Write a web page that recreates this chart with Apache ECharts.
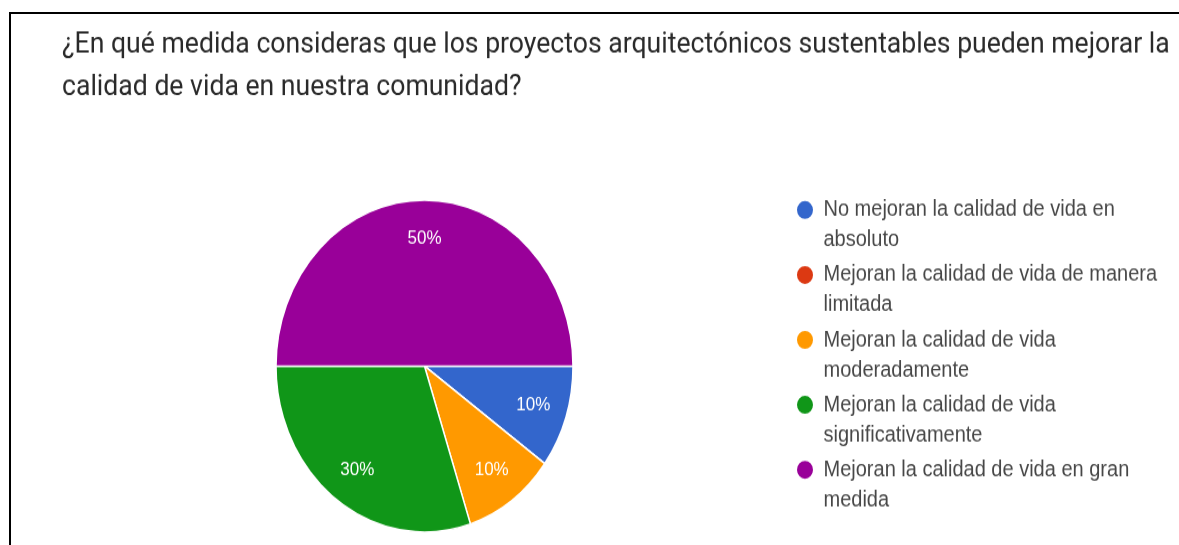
<!DOCTYPE html>
<html>
<head>
<meta charset="utf-8">
<script src="https://cdn.jsdelivr.net/npm/echarts@6/dist/echarts.min.js"></script>
<style>
  html, body { margin: 0; padding: 0; background: #ffffff; overflow: hidden; }
  body { width: 1179px; height: 545px; position: relative; }
  .rule { position: absolute; background: #000; pointer-events: none; z-index: 2; }
  #ruleTop { left: 9px; top: 12px; width: 1170px; height: 2px; }
  #ruleLeft { left: 9px; top: 12px; width: 2px; height: 533px; }
  #wrap {
    position: absolute; left: 0; top: 0; width: 1179px; height: 488px;
    transform: scaleY(1.118); transform-origin: 0 0;
  }
  #chart { width: 1179px; height: 488px; }
</style>
</head>
<body>
<div id="wrap"><div id="chart"></div></div>
<div class="rule" id="ruleTop"></div>
<div class="rule" id="ruleLeft"></div>
<script>
// Survey question shown above the pie
const titleLines = [
  '¿En qué medida consideras que los proyectos arquitectónicos sustentables pueden mejorar la',
  'calidad de vida en nuestra comunidad?'
];

// Answer options (legend order)
const categories = [
  'No mejoran la calidad de vida en absoluto',
  'Mejoran la calidad de vida de manera limitada',
  'Mejoran la calidad de vida moderadamente',
  'Mejoran la calidad de vida significativamente',
  'Mejoran la calidad de vida en gran medida'
];

// Legend text as it wraps in the legend column
const legendLines = [
  ['No mejoran la calidad de vida en', 'absoluto'],
  ['Mejoran la calidad de vida de manera', 'limitada'],
  ['Mejoran la calidad de vida', 'moderadamente'],
  ['Mejoran la calidad de vida', 'significativamente'],
  ['Mejoran la calidad de vida en gran', 'medida']
];

// Share of responses, percent
const shares = [10, 0, 10, 30, 50];

const colors = ['#3366cc', '#dc3912', '#ff9900', '#109618', '#990099'];

const seriesData = categories.map((name, i) => ({ name: name, value: shares[i] }));

const CENTER = [424.5, 327.4];
const R = 148.5;

const chart = echarts.init(document.getElementById('chart'), null, { renderer: 'canvas' });

chart.setOption({
  animation: false,
  color: colors,
  title: {
    text: titleLines.join('\n'),
    left: 62,
    top: 22,
    padding: 0,
    textStyle: {
      fontFamily: 'Roboto',
      fontWeight: 'normal',
      fontSize: 26.6,
      lineHeight: 37.6,
      color: '#2a2a2a'
    }
  },
  legend: {
    orient: 'vertical',
    left: 795,
    top: 147.3,
    padding: 0,
    itemWidth: 19,
    itemHeight: 18,
    itemGap: -22.9,
    icon: 'circle',
    selectedMode: false,
    data: categories,
    // a leading empty line keeps the first text line level with the marker
    formatter: function (name) {
      return '\n' + legendLines[categories.indexOf(name)].join('\n');
    },
    textStyle: {
      fontFamily: 'Liberation Sans',
      fontSize: 20,
      lineHeight: 27,
      color: '#474747',
      padding: [0, 0, 0, 4]
    }
  },
  series: [
    {
      type: 'pie',
      center: CENTER,
      radius: [0, R],
      startAngle: 0,
      clockwise: true,
      silent: true,
      label: { show: false },
      labelLine: { show: false },
      itemStyle: { borderColor: '#ffffff', borderWidth: 1.5 },
      data: seriesData
    },
    {
      // percentage labels, placed in the outer band of the pie
      type: 'pie',
      center: CENTER,
      radius: [R * 0.5, R],
      startAngle: 0,
      clockwise: true,
      silent: true,
      itemStyle: { color: 'rgba(0,0,0,0)', borderWidth: 0 },
      label: {
        show: true,
        position: 'inside',
        fontFamily: 'Liberation Sans',
        fontSize: 17,
        color: '#ffffff',
        formatter: function (p) { return p.value > 0 ? p.value + '%' : ''; }
      },
      labelLine: { show: false },
      data: seriesData
    }
  ]
});
</script>
</body>
</html>
